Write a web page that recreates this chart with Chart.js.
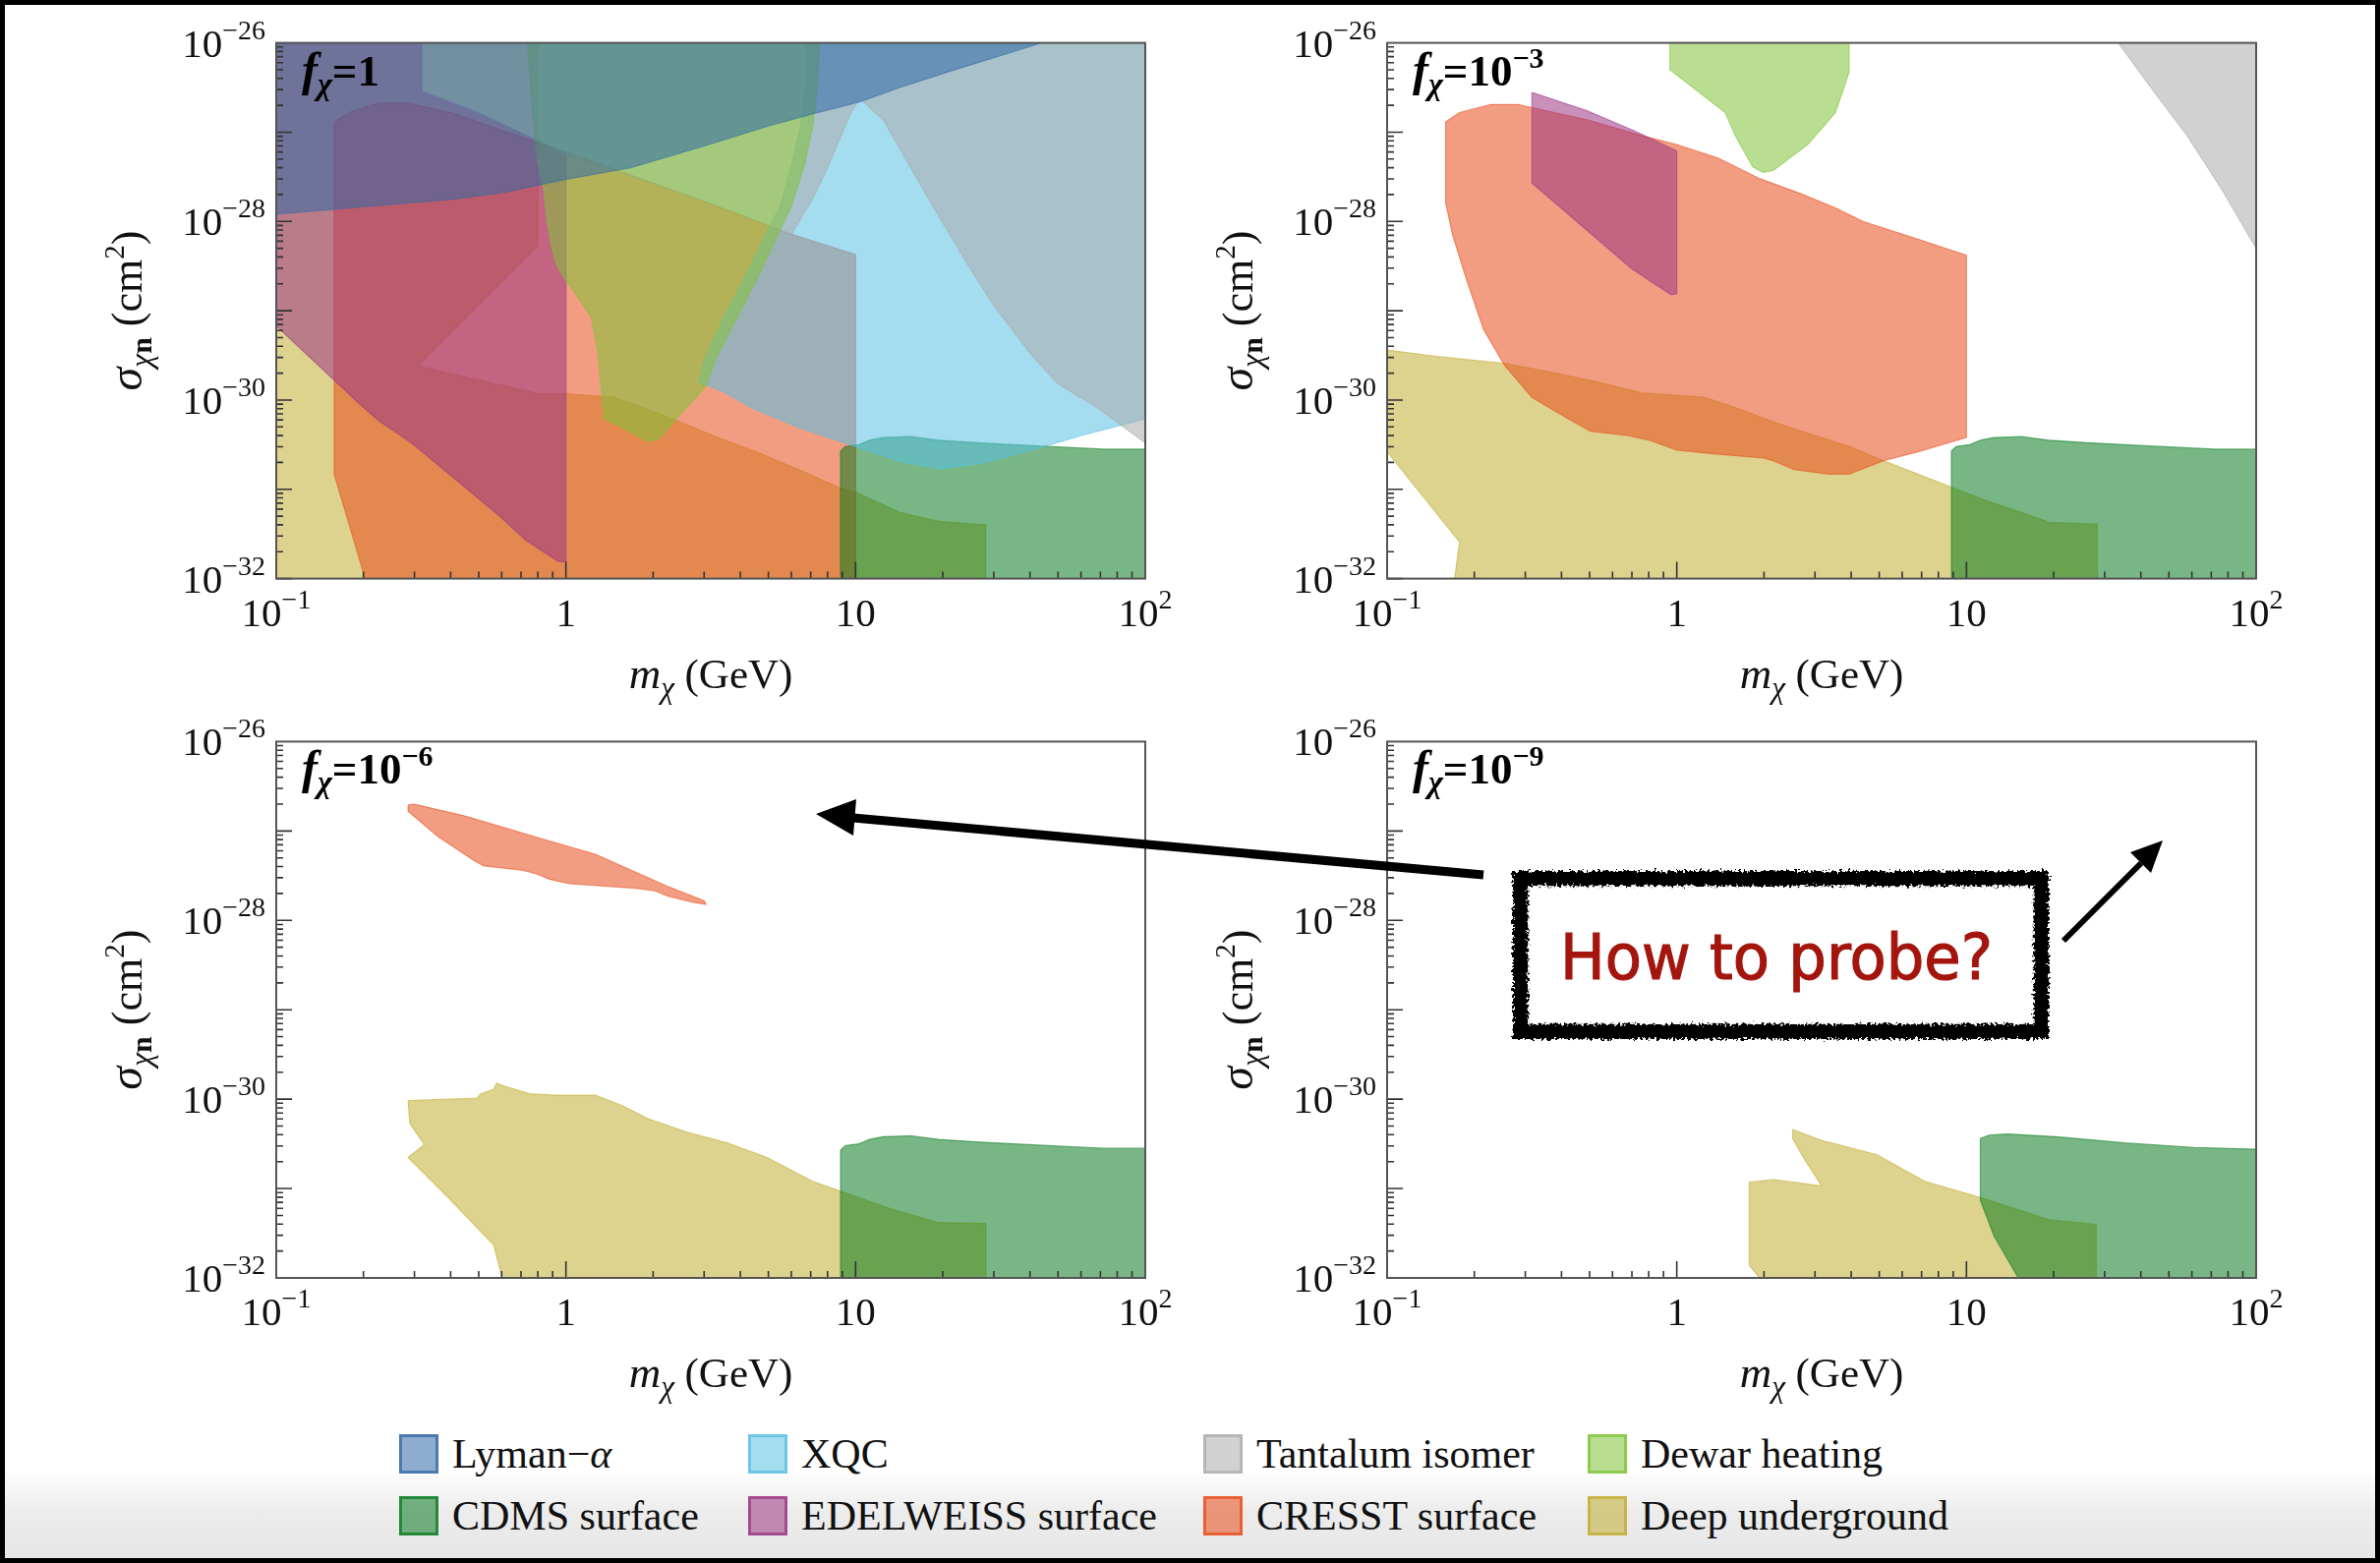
<!DOCTYPE html>
<html>
<head>
<meta charset="utf-8">
<script src="https://cdn.jsdelivr.net/npm/chart.js@4.4.0/dist/chart.umd.min.js"></script>
<style>
  html, body { margin: 0; padding: 0; background: #fff; }
  #page { position: relative; width: 2421px; height: 1590px; overflow: hidden; background: #fff; }
  #shade { position: absolute; left: 0; top: 1495px; width: 2421px; height: 95px;
           background: linear-gradient(to bottom, rgba(236,236,236,0) 0%, #ececec 45%, #e6e6e6 100%); }
  canvas { position: absolute; }
  #frame { position: absolute; left: 0; top: 0; width: 2421px; height: 1590px; box-sizing: border-box;
           border: 5px solid #000; pointer-events: none; }
  #notes { position: absolute; left: 0; top: 0; }
  .leg { position: absolute; display: flex; align-items: center; height: 40px;
         font: 42px "Liberation Serif", "Times New Roman", serif; color: #111; white-space: nowrap; }
  .leg .sw { width: 34px; height: 34px; border: 3px solid; margin-right: 14px; }
</style>
</head>
<body>
<div id="page">
  <div id="shade"></div>
  <canvas id="p1" width="1200" height="730" style="left:0;top:0"></canvas>
  <canvas id="p2" width="1200" height="730" style="left:1130px;top:0"></canvas>
  <canvas id="p3" width="1200" height="730" style="left:0;top:710px"></canvas>
  <canvas id="p4" width="1200" height="730" style="left:1130px;top:710px"></canvas>
  <div id="legend"></div>
  <svg id="notes" width="2421" height="1590">
    <defs>
      <filter id="rough" x="-5%" y="-10%" width="110%" height="120%">
        <feTurbulence type="fractalNoise" baseFrequency="0.35" numOctaves="2" seed="7" result="n"/>
        <feDisplacementMap in="SourceGraphic" in2="n" scale="9" xChannelSelector="R" yChannelSelector="G"/>
      </filter>
    </defs>
    <g filter="url(#rough)">
      <rect x="1546" y="893" width="531" height="157" fill="none" stroke="#000" stroke-width="14"/>
      <rect x="1541" y="888" width="541" height="167" fill="none" stroke="#000" stroke-width="3"/>
      <rect x="1553" y="900" width="517" height="143" fill="none" stroke="#000" stroke-width="2.5"/>
    </g>
    <text x="1587" y="996" textLength="440" lengthAdjust="spacingAndGlyphs"
          font-family="'Comic Sans MS', 'DejaVu Sans', sans-serif" font-size="64" fill="#a3150d"
          stroke="#a3150d" stroke-width="1.2">How to probe?</text>
    <line x1="1509" y1="890" x2="868" y2="832" stroke="#000" stroke-width="9"/>
    <polygon points="830,828 871,813 868,850" fill="#000"/>
    <line x1="2099" y1="957" x2="2178" y2="878" stroke="#000" stroke-width="6"/>
    <polygon points="2200,855 2188,888 2167,867" fill="#000"/>
  </svg>
  <div id="frame"></div>
</div>
<script>
// axis ticks
const xTicks = [0.1, 1, 10, 100];
const xTickLabels = [['10', '−1'], ['1', ''], ['10', ''], ['10', '2']];
const yTicks = [1e-26, 1e-28, 1e-30, 1e-32];
const yTickLabels = [['10', '−26'], ['10', '−28'], ['10', '−30'], ['10', '−32']];
// f_chi for each panel
const fractions = [['1', ''], ['10', '−3'], ['10', '−6'], ['10', '−9']];

// regions: [log10(m / GeV), log10(sigma / cm^2)]
// f = 1
const lymanF0 = [[-1,-27.92],[-0.681,-27.83],[-0.388,-27.75],[-0.207,-27.67],[-0.003,-27.53],[0.223,-27.40],
  [0.472,-27.16],[0.699,-26.93],[0.858,-26.79],[1.017,-26.66],[1.153,-26.50],[1.324,-26.32],[1.494,-26.15],
  [1.642,-26],[-1,-26]];
const xqcF0 = [[0.83,-26],[0.83,-26.46],[0.81,-26.93],[0.78,-27.36],[0.74,-27.83],[0.69,-28.14],[0.62,-28.61],
  [0.55,-29.04],[0.48,-29.54],[0.46,-29.8],[0.54,-29.9],[0.642,-30.09],[0.8125,-30.32],[1,-30.52],[1.153,-30.69],
  [1.29,-30.77],[1.4375,-30.71],[1.608,-30.56],[1.778,-30.40],[2,-30.21],[2,-26]];
const tantalumF0 = [[-0.497,-26],[-0.497,-26.54],[-0.297,-26.79],[-0.003,-27.24],[0.472,-27.77],[0.78,-28.14],
  [0.858,-27.71],[0.903,-27.40],[0.949,-27.05],[0.983,-26.79],[1.015,-26.62],[1.028,-26.66],[1.097,-26.87],
  [1.176,-27.32],[1.267,-27.83],[1.381,-28.45],[1.472,-28.92],[1.608,-29.50],[1.699,-29.82],[1.835,-30.09],
  [2,-30.48],[2,-26]];
const dewarF0 = [[-0.133,-26],[-0.116,-26.73],[-0.099,-27.32],[-0.077,-27.63],[-0.066,-27.98],[-0.049,-28.29],
  [-0.032,-28.49],[-0.003,-28.65],[0.031,-28.80],[0.087,-29.07],[0.110,-29.46],[0.121,-29.85],[0.132,-30.21],
  [0.177,-30.28],[0.279,-30.46],[0.319,-30.44],[0.392,-30.17],[0.482,-29.85],[0.517,-29.54],[0.597,-29.04],
  [0.665,-28.61],[0.733,-28.14],[0.778,-27.83],[0.824,-27.36],[0.852,-26.93],[0.869,-26.46],[0.875,-26]];
const edelweissF0 = [[-1,-26],[-0.497,-26],[-0.497,-26.54],[-0.297,-26.79],[-0.003,-27.24],[0,-27.24],[0,-31.81],
  [-0.026,-31.81],[-0.139,-31.57],[-0.229,-31.30],[-0.388,-30.87],[-0.534,-30.48],[-0.647,-30.23],[-0.704,-30.07],
  [-1,-29.17]];
const cresstF0 = [[-0.8,-26.89],[-0.75,-26.78],[-0.647,-26.675],[-0.546,-26.675],[-0.388,-26.79],[-0.229,-26.97],
  [-0.094,-27.12],[0,-27.22],[0.472,-27.77],[0.756,-28.12],[1,-28.37],[1,-32],[-0.693,-32],[-0.8,-30.83]];
const deepF0 = [[-1,-26],[-0.097,-26],[-0.097,-28.27],[-0.512,-29.62],[-0.094,-29.93],[0,-29.93],[0.166,-29.97],
  [0.336,-30.17],[0.539,-30.44],[0.642,-30.56],[0.8125,-30.79],[0.949,-30.99],[1,-31.03],[1.153,-31.26],
  [1.29,-31.36],[1.449,-31.40],[1.449,-32],[-1,-32]];
// CDMS surface, same for f = 1, 1e-3, 1e-6
const cdms = [[0.948,-32],[0.948,-30.57],[0.965,-30.52],[1.012,-30.50],[1.048,-30.45],[1.095,-30.42],[1.19,-30.41],
  [1.286,-30.45],[1.429,-30.48],[1.667,-30.52],[1.857,-30.55],[2,-30.55],[2,-32]];

// f = 1e-3
const tantalumF3 = [[1.524,-26],[1.643,-26.53],[1.762,-27.04],[1.881,-27.64],[2,-28.30],[2,-26]];
const dewarF3 = [[-0.024,-26],[-0.024,-26.30],[0.167,-26.78],[0.202,-27.04],[0.262,-27.39],[0.298,-27.45],
  [0.333,-27.43],[0.452,-27.14],[0.548,-26.78],[0.595,-26.33],[0.595,-26]];
const edelweissF3 = [[-0.5,-26.556],[-0.476,-26.58],[-0.310,-26.76],[-0.143,-26.99],[0,-27.21],[0,-28.81],
  [-0.02,-28.82],[-0.155,-28.53],[-0.5,-27.57]];
const cresstF3 = [[-0.798,-26.885],[-0.75,-26.78],[-0.643,-26.69],[-0.548,-26.69],[-0.310,-26.86],[-0.119,-27.04],
  [0,-27.14],[0.143,-27.29],[0.286,-27.52],[0.429,-27.69],[0.548,-27.85],[0.643,-28.0],[0.833,-28.2],[1,-28.38],
  [1,-30.42],[0.833,-30.58],[0.714,-30.68],[0.595,-30.83],[0.524,-30.83],[0.405,-30.78],[0.333,-30.68],
  [0.298,-30.65],[0.119,-30.60],[0,-30.56],[-0.095,-30.45],[-0.167,-30.40],[-0.298,-30.35],[-0.381,-30.20],
  [-0.5,-29.97],[-0.595,-29.61],[-0.667,-29.21],[-0.726,-28.65],[-0.774,-28.15],[-0.798,-27.79]];
const deepF3 = [[-1,-29.44],[-0.833,-29.51],[-0.595,-29.59],[-0.429,-29.69],[-0.286,-29.79],[-0.119,-29.92],
  [0.095,-29.97],[0.190,-30.07],[0.357,-30.27],[0.452,-30.37],[0.595,-30.52],[0.714,-30.68],[0.833,-30.83],
  [0.952,-30.98],[1.071,-31.13],[1.190,-31.26],[1.286,-31.37],[1.452,-31.39],[1.452,-32],[-0.767,-32],
  [-0.75,-31.59],[-1,-30.58]];

// f = 1e-6
const cresstF6 = [[-0.545,-26.71],[-0.523,-26.70],[-0.352,-26.83],[-0.216,-26.96],[-0.080,-27.09],[0.102,-27.26],
  [0.239,-27.46],[0.352,-27.62],[0.477,-27.78],[0.484,-27.82],[0.443,-27.80],[0.352,-27.73],[0.307,-27.67],
  [0.239,-27.64],[0.011,-27.59],[-0.057,-27.54],[-0.102,-27.48],[-0.148,-27.44],[-0.284,-27.39],[-0.318,-27.33],
  [-0.443,-27.06],[-0.545,-26.78]];
const deepF6 = [[-0.545,-30.015],[-0.307,-29.99],[-0.295,-29.94],[-0.25,-29.89],[-0.239,-29.82],[-0.216,-29.85],
  [-0.125,-29.94],[-0.034,-29.955],[0.102,-29.955],[0.193,-30.07],[0.284,-30.22],[0.420,-30.37],[0.557,-30.49],
  [0.693,-30.65],[0.852,-30.92],[0.966,-31.05],[1.125,-31.23],[1.284,-31.38],[1.450,-31.39],[1.450,-32],
  [-0.220,-32],[-0.25,-31.63],[-0.398,-31.13],[-0.545,-30.65],[-0.489,-30.51],[-0.539,-30.27]];

// f = 1e-9
const cdmsF9 = [[1.179,-32],[1.095,-31.53],[1.048,-31.13],[1.048,-30.44],[1.08,-30.40],[1.143,-30.39],
  [1.31,-30.42],[1.548,-30.49],[1.786,-30.54],[2,-30.56],[2,-32]];
const deepF9 = [[0.25,-30.93],[0.333,-30.90],[0.5,-30.97],[0.44,-30.67],[0.4,-30.44],[0.4,-30.34],[0.5,-30.46],
  [0.69,-30.62],[0.857,-30.92],[1.048,-31.10],[1.286,-31.35],[1.448,-31.40],[1.448,-32],[0.286,-32],
  [0.25,-31.86]];

const legendKeys = ['lyman', 'xqc', 'tantalum', 'dewar', 'cdms', 'edelweiss', 'cresst', 'deep'];
const legendNames = ['Lyman−<i>α</i>', 'XQC', 'Tantalum isomer', 'Dewar heating',
  'CDMS surface', 'EDELWEISS surface', 'CRESST surface', 'Deep underground'];

const regionColors = {
  lyman: '50,105,165', xqc: '90,191,228', tantalum: '172,172,172', dewar: '128,195,55',
  cdms: '10,124,33', edelweiss: '155,53,131', cresst: '231,77,28', deep: '193,173,50'
};
const FILL_ALPHA = 0.55;

// first dataset is drawn on top
const panels = [
  { id: 'p1', top: 43.6, bottom: 141.4, sets: [['lyman', lymanF0], ['dewar', dewarF0], ['tantalum', tantalumF0],
      ['xqc', xqcF0], ['cdms', cdms], ['edelweiss', edelweissF0], ['cresst', cresstF0], ['deep', deepF0]] },
  { id: 'p2', top: 43.6, bottom: 141.4, sets: [['dewar', dewarF3], ['tantalum', tantalumF3], ['cdms', cdms],
      ['edelweiss', edelweissF3], ['cresst', cresstF3], ['deep', deepF3]] },
  { id: 'p3', top: 44.4, bottom: 140, sets: [['cdms', cdms], ['cresst', cresstF6], ['deep', deepF6]] },
  { id: 'p4', top: 44.4, bottom: 140, sets: [['cdms', cdmsF9], ['deep', deepF9]] }
];

const SERIF = '"Liberation Serif", "Times New Roman", serif';

function drawRich(ctx, parts, x, y, align) {
  let w = 0;
  for (const p of parts) { ctx.font = p.font; p.w = ctx.measureText(p.t).width; w += p.w; }
  let cx = align === 'right' ? x - w : align === 'center' ? x - w / 2 : x;
  for (const p of parts) {
    ctx.font = p.font;
    ctx.fillText(p.t, cx, y + (p.dy || 0));
    cx += p.w;
  }
}

function powerLabel(base, sup) {
  const parts = [{ t: base, font: `41px ${SERIF}` }];
  if (sup) parts.push({ t: sup, font: `28px ${SERIF}`, dy: -18 });
  return parts;
}

// frame, inward ticks, tick labels and titles
const axisDecor = {
  id: 'axisDecor',
  afterDraw(chart, args, opts) {
    const { ctx, chartArea: a, scales: { x, y } } = chart;
    ctx.save();
    ctx.strokeStyle = '#333';
    ctx.lineWidth = 1.6;
    ctx.beginPath();
    for (let e = -1; e < 2; e++) {
      for (let k = 1; k < 10; k++) {
        const px = x.getPixelForValue(k * 10 ** e);
        ctx.moveTo(px, a.bottom);
        ctx.lineTo(px, a.bottom - (k === 1 ? 17 : 7));
      }
    }
    for (let e = -32; e < -26; e++) {
      for (let k = 1; k < 10; k++) {
        const py = y.getPixelForValue(k * 10 ** e);
        ctx.moveTo(a.left, py);
        ctx.lineTo(a.left + (k === 1 ? 16 : 7), py);
      }
    }
    ctx.stroke();
    ctx.strokeStyle = '#555';
    ctx.lineWidth = 2;
    ctx.strokeRect(a.left, a.top, a.right - a.left, a.bottom - a.top);

    ctx.fillStyle = '#111';
    ctx.textBaseline = 'alphabetic';
    xTicks.forEach((v, i) => drawRich(ctx, powerLabel(...xTickLabels[i]), x.getPixelForValue(v), a.bottom + 48, 'center'));
    yTicks.forEach((v, i) => drawRich(ctx, powerLabel(...yTickLabels[i]), a.left - 11, y.getPixelForValue(v) + 14, 'right'));

    // x title
    drawRich(ctx, [
      { t: 'm', font: `italic 45px ${SERIF}` },
      { t: 'χ', font: `italic 31px ${SERIF}`, dy: 10 },
      { t: ' (GeV)', font: `43px ${SERIF}` }
    ], (a.left + a.right) / 2, a.bottom + 111, 'center');

    // y title
    ctx.save();
    ctx.translate(a.left - 137, (a.top + a.bottom) / 2);
    ctx.rotate(-Math.PI / 2);
    drawRich(ctx, [
      { t: 'σ', font: `italic 48px ${SERIF}` },
      { t: 'χ', font: `italic 32px ${SERIF}`, dy: 10 },
      { t: 'n', font: `bold 30px ${SERIF}`, dy: 10 },
      { t: ' (cm', font: `44px ${SERIF}` },
      { t: '2', font: `29px ${SERIF}`, dy: -18 },
      { t: ')', font: `44px ${SERIF}` }
    ], 0, 0, 'center');
    ctx.restore();

    // f_chi label
    const [base, sup] = opts.fraction;
    const parts = [
      { t: 'f', font: `bold italic 48px ${SERIF}` },
      { t: 'χ', font: `bold italic 32px ${SERIF}`, dy: 9 },
      { t: '=' + base, font: `bold 45px ${SERIF}` }
    ];
    if (sup) parts.push({ t: sup, font: `bold 30px ${SERIF}`, dy: -18 });
    ctx.fillStyle = '#000';
    drawRich(ctx, parts, a.left + 26, a.top + 43, 'left');
    ctx.restore();
  }
};

function toXY(pts) {
  const out = pts.map(([lx, ly]) => ({ x: 10 ** lx, y: 10 ** ly }));
  out.push(out[0]);
  return out;
}

function region(key, pts) {
  const c = regionColors[key];
  return {
    label: key,
    data: toXY(pts),
    showLine: true,
    fill: 'shape',
    backgroundColor: `rgba(${c},${FILL_ALPHA})`,
    borderColor: `rgba(${c},0.55)`,
    borderWidth: 1.2,
    pointRadius: 0,
    tension: 0
  };
}

panels.forEach((p, i) => {
  new Chart(document.getElementById(p.id), {
    type: 'scatter',
    data: { datasets: p.sets.map(([key, pts]) => region(key, pts)) },
    options: {
      responsive: false,
      animation: false,
      devicePixelRatio: 1,
      events: [],
      layout: { padding: { left: 281, right: 35, top: p.top, bottom: p.bottom } },
      plugins: {
        legend: { display: false },
        tooltip: { enabled: false },
        axisDecor: { fraction: fractions[i] }
      },
      scales: {
        x: { type: 'logarithmic', min: 0.1, max: 100, display: false },
        y: { type: 'logarithmic', min: 1e-32, max: 1e-26, display: false }
      }
    },
    plugins: [axisDecor]
  });
});

// legend
const legendCols = [406, 761, 1224, 1615];
const legendRows = [1459, 1522];
const legend = document.getElementById('legend');
legendKeys.forEach((key, i) => {
  const c = regionColors[key];
  const item = document.createElement('div');
  item.className = 'leg';
  item.style.left = legendCols[i % 4] + 'px';
  item.style.top = legendRows[Math.floor(i / 4)] + 'px';
  item.innerHTML = `<span class="sw" style="background:rgba(${c},${FILL_ALPHA});border-color:rgba(${c},0.75)"></span>${legendNames[i]}`;
  legend.appendChild(item);
});
</script>
</body>
</html>
